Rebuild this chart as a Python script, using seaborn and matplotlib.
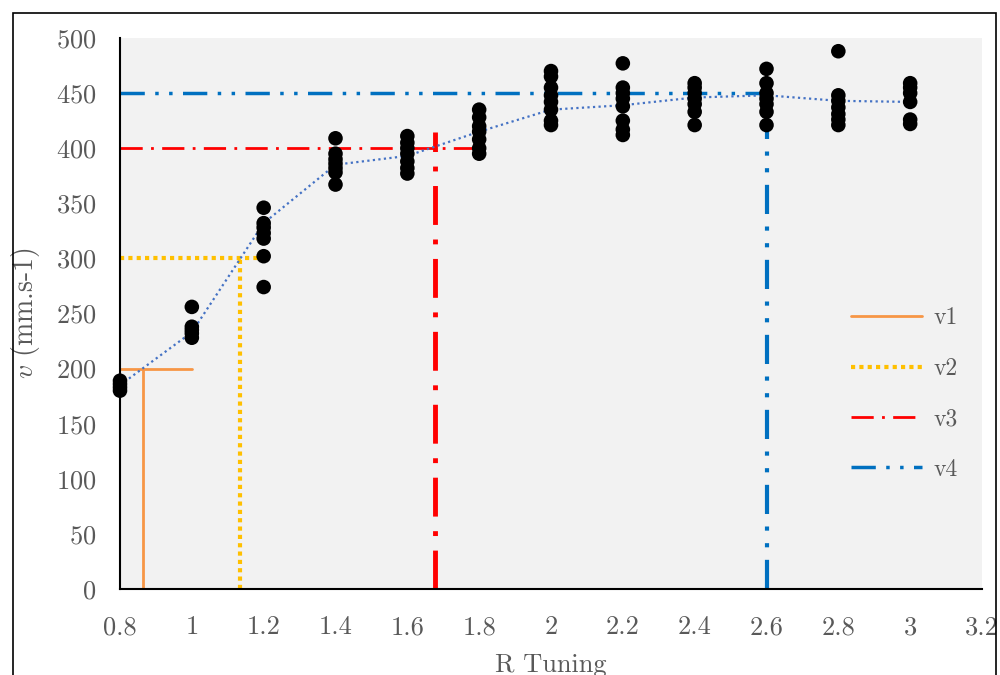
import matplotlib
matplotlib.use("Agg")
import matplotlib.pyplot as plt
import matplotlib.patches as mpatches
import seaborn as sns
import pandas as pd

# measured speeds per R tuning value
r_values = [0.8, 1.0, 1.2, 1.4, 1.6, 1.8, 2.0, 2.2, 2.4, 2.6, 2.8, 3.0]
speeds = [
    [180, 183, 186, 189],
    [256, 238, 235, 232, 228],
    [346, 332, 328, 323, 318, 302, 274],
    [409, 395, 390, 386, 382, 378, 367],
    [411, 405, 400, 395, 388, 382, 377],
    [435, 428, 420, 415, 408, 400, 395],
    [470, 465, 455, 448, 442, 435, 425, 421],
    [477, 455, 450, 445, 438, 425, 417, 412],
    [459, 455, 450, 445, 440, 433, 421],
    [472, 459, 450, 445, 440, 433, 421],
    [488, 448, 443, 437, 431, 426, 421],
    [459, 455, 450, 442, 426, 422],
]
trend = [185, 233, 332, 385, 393, 415, 435, 439, 446, 448, 443, 442]

# threshold lines v1..v4
v_names = ["v1", "v2", "v3", "v4"]
v_levels = [200, 300, 400, 450]
v_cross = [0.865, 1.134, 1.677, 2.6]
h_end = [1.0, 1.195, 1.8, 2.6]
v_top = [200, 300, 415, 462]
v_colors = ["#F79646", "#FFC000", "#FF0000", "#0070C0"]
v_styles = ["-", (0, (1, 1)), (0, (8, 3, 1, 3)), (0, (7, 3, 1, 3, 1, 3))]
h_widths = [2, 3, 2, 2.5]
vert_widths = [2, 3, 3.5, 3]

rows = [(r, s) for r, vals in zip(r_values, speeds) for s in vals]
df = pd.DataFrame(rows, columns=["R", "v"])

sns.set_style("white")
plt.rcParams["font.family"] = ["cmr10", "DejaVu Serif"]
plt.rcParams["mathtext.fontset"] = "cm"
plt.rcParams["axes.formatter.use_mathtext"] = True

grey = "#595959"
fig = plt.figure(figsize=(10, 6.75), dpi=100)
ax = fig.add_axes([0.12, 0.1274, 0.862, 0.8163])
ax.set_facecolor("#F2F2F2")

handles = []
for name, lvl, xc, xe, top, c, ls, hw, vw in zip(v_names, v_levels, v_cross, h_end, v_top,
                                                  v_colors, v_styles, h_widths, vert_widths):
    h, = ax.plot([0.8, xe], [lvl, lvl], color=c, linestyle=ls, linewidth=hw, label=name, zorder=2)
    ax.plot([xc, xc], [0, top], color=c, linestyle=ls, linewidth=vw, zorder=2)
    handles.append(h)

ax.plot(r_values, trend, color="#4472C4", linestyle=(0, (1, 1.5)), linewidth=1.6, zorder=3)
sns.scatterplot(data=df, x="R", y="v", color="black", s=110, edgecolor="none", ax=ax,
                zorder=4, clip_on=False)

ax.set_xlim(0.8, 3.2)
ax.set_ylim(0, 500)
ax.set_xticks([0.8, 1, 1.2, 1.4, 1.6, 1.8, 2, 2.2, 2.4, 2.6, 2.8, 3, 3.2])
ax.set_xticklabels(["0.8", "1", "1.2", "1.4", "1.6", "1.8", "2", "2.2", "2.4", "2.6", "2.8", "3", "3.2"])
ax.set_yticks(range(0, 501, 50))
ax.tick_params(direction="in", length=8, width=1.5, colors="black", labelcolor=grey,
               labelsize=19)
ax.tick_params(axis="x", pad=19)
ax.tick_params(axis="y", pad=17)
for side in ["top", "right"]:
    ax.spines[side].set_visible(False)
for side in ["left", "bottom"]:
    ax.spines[side].set_color("black")
    ax.spines[side].set_linewidth(1.5)

ax.set_xlabel("R Tuning", fontsize=19, color=grey, labelpad=10)
ax.set_ylabel("$v$ (mm.s-1)", fontsize=20, color=grey, labelpad=10)

leg = ax.legend(handles=handles, loc="center", bbox_to_anchor=(0.91, 0.354), frameon=False,
                fontsize=17, handlelength=3.0, labelspacing=1.2, handletextpad=0.5)
for t in leg.get_texts():
    t.set_color(grey)

fig.patches.append(mpatches.Rectangle((0.013, -0.05), 0.983, 1.0307, transform=fig.transFigure,
                                      fill=False, edgecolor="black", linewidth=1.2))

fig.savefig("out.png", dpi=100)
plt.close(fig)
